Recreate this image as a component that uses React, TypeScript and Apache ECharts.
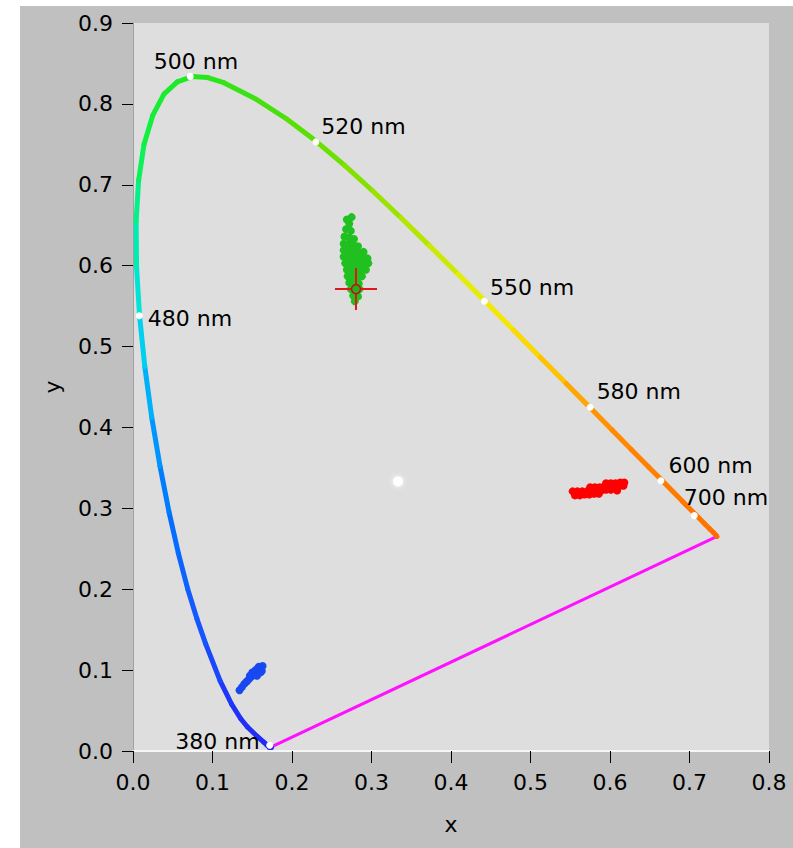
import React, { useEffect, useRef } from "react";
import * as echarts from "echarts";

// CIE 1931 spectral locus (chromaticity x, y per wavelength in nm)
const wavelengths = [
  380, 400, 420, 430, 440, 450, 460, 465, 470, 475, 480, 482.5, 485, 487.5, 490, 492.5, 495, 497.5,
  500, 502.5, 505, 507.5, 510, 512.5, 515, 517.5, 520, 522.5, 525, 530, 535, 540, 545, 550, 555,
  560, 565, 570, 575, 580, 585, 590, 595, 600, 605, 610, 620, 630, 640, 650, 660, 680, 700,
];
const locusX = [
  0.1741, 0.1733, 0.1714, 0.1689, 0.1644, 0.1566, 0.144, 0.1355, 0.1241, 0.1096, 0.0913, 0.0803,
  0.0687, 0.057, 0.0454, 0.034, 0.0235, 0.0148, 0.0082, 0.0045, 0.0039, 0.0071, 0.0139, 0.0248,
  0.0389, 0.0557, 0.0743, 0.0939, 0.1142, 0.1547, 0.1929, 0.2296, 0.2658, 0.3016, 0.3373, 0.3731,
  0.4087, 0.4441, 0.4788, 0.5125, 0.5448, 0.5752, 0.6029, 0.627, 0.6482, 0.6658, 0.6915, 0.7079,
  0.719, 0.726, 0.73, 0.7334, 0.7347,
];
const locusY = [
  0.005, 0.0048, 0.0051, 0.0069, 0.0109, 0.0177, 0.0297, 0.0399, 0.0578, 0.0868, 0.1327, 0.1637,
  0.2007, 0.2447, 0.295, 0.352, 0.4127, 0.4756, 0.5384, 0.5985, 0.6548, 0.7059, 0.7502, 0.7857,
  0.812, 0.8272, 0.8338, 0.8326, 0.8262, 0.8059, 0.7816, 0.7543, 0.7243, 0.6923, 0.6589, 0.6245,
  0.5896, 0.5547, 0.5202, 0.4866, 0.4544, 0.4242, 0.3965, 0.3725, 0.3514, 0.334, 0.3083, 0.292,
  0.2809, 0.274, 0.27, 0.2666, 0.2653,
];

// Wavelength markers drawn on the locus
const markerNames = ["500 nm", "520 nm", "550 nm", "580 nm", "600 nm", "700 nm", "480 nm", "380 nm"];
const markerX = [0.072, 0.23, 0.442, 0.575, 0.664, 0.706, 0.008, 0.172];
const markerY = [0.834, 0.753, 0.556, 0.425, 0.334, 0.291, 0.538, 0.007];

// Equal-energy white point
const whitePoint = [0.3333, 0.3333];

// Measured chromaticities: green, red and blue clusters
const greenCluster: number[][] = [
  [0.272, 0.652], [0.268, 0.645], [0.274, 0.643], [0.266, 0.636], [0.272, 0.635], [0.278, 0.633],
  [0.265, 0.627], [0.271, 0.627], [0.277, 0.626], [0.283, 0.624], [0.265, 0.619], [0.271, 0.619],
  [0.277, 0.618], [0.283, 0.618], [0.29, 0.617], [0.265, 0.611], [0.271, 0.611], [0.277, 0.61],
  [0.283, 0.61], [0.289, 0.61], [0.295, 0.609], [0.267, 0.603], [0.273, 0.602], [0.279, 0.602],
  [0.285, 0.602], [0.291, 0.601], [0.296, 0.603], [0.269, 0.595], [0.275, 0.594], [0.281, 0.594],
  [0.287, 0.594], [0.293, 0.595], [0.27, 0.587], [0.276, 0.586], [0.282, 0.586], [0.288, 0.587],
  [0.272, 0.579], [0.278, 0.578], [0.284, 0.578], [0.274, 0.571], [0.28, 0.57], [0.285, 0.571],
  [0.277, 0.563], [0.283, 0.562], [0.279, 0.556], [0.269, 0.657], [0.275, 0.66],
];
const redCluster: number[][] = [
  [0.556, 0.316], [0.562, 0.316], [0.568, 0.317], [0.574, 0.317], [0.58, 0.318], [0.553, 0.321],
  [0.559, 0.321], [0.565, 0.321], [0.571, 0.321], [0.577, 0.322], [0.583, 0.322], [0.589, 0.322],
  [0.595, 0.323], [0.601, 0.323], [0.575, 0.326], [0.581, 0.326], [0.587, 0.326], [0.593, 0.327],
  [0.599, 0.327], [0.605, 0.327], [0.611, 0.327], [0.617, 0.328], [0.595, 0.331], [0.601, 0.331],
  [0.607, 0.331], [0.613, 0.332], [0.618, 0.332], [0.609, 0.322], [0.586, 0.318],
];
const blueCluster: number[][] = [
  [0.134, 0.075], [0.137, 0.079], [0.14, 0.083], [0.143, 0.086], [0.146, 0.089], [0.149, 0.092],
  [0.152, 0.095], [0.155, 0.098], [0.158, 0.1], [0.161, 0.103], [0.163, 0.105], [0.15, 0.097],
  [0.154, 0.1], [0.158, 0.104], [0.156, 0.093], [0.16, 0.097], [0.162, 0.099], [0.147, 0.093],
];

// Reference cross at the target chromaticity
const targetPoint = [0.2805, 0.571];

const X_MIN = 0;
const X_MAX = 0.8;
const Y_MIN = 0;
const Y_MAX = 0.9;
const TICK_STEP = 0.1;

const FONT = "DejaVu Sans";
const FONT_SIZE = 22;

// Line colour along the locus, interpolated between these stops
const colorStopNm = [380, 470, 480, 485, 490, 495, 500, 505, 510, 520, 530, 540, 550, 560, 570, 580, 590, 600, 620, 700];
const colorStopHex = [
  "#2020f0", "#2030f8", "#1850ff", "#1060ff", "#0070ff", "#00a0ff", "#00e0e8", "#00f0a0", "#10f040",
  "#20e820", "#40e010", "#60e000", "#90e000", "#c0e800", "#f0f000", "#ffd000", "#ff9800", "#ff8400",
  "#ff7800", "#ff6800",
];

function hexToRgb(h: string) {
  const n = parseInt(h.slice(1), 16);
  return [(n >> 16) & 255, (n >> 8) & 255, n & 255];
}

function colorAt(nm: number) {
  let i = 0;
  while (i < colorStopNm.length - 2 && nm > colorStopNm[i + 1]) i++;
  const t = Math.max(0, Math.min(1, (nm - colorStopNm[i]) / (colorStopNm[i + 1] - colorStopNm[i])));
  const a = hexToRgb(colorStopHex[i]);
  const b = hexToRgb(colorStopHex[i + 1]);
  const c = a.map((v, k) => Math.round(v + (b[k] - v) * t));
  return `rgb(${c[0]},${c[1]},${c[2]})`;
}

// Label placement for each marker (pixels, relative to the marker)
const markerLabelOffset: Record<string, number[]> = {
  "500 nm": [-40, -15],
  "520 nm": [2, -15],
  "550 nm": [2, -14],
  "580 nm": [3, -16],
  "600 nm": [4, -15],
  "700 nm": [-14, -18],
  "480 nm": [5, 3],
  "380 nm": [-98, -4],
};

export default function App() {
  const ref = useRef<HTMLDivElement>(null);

  useEffect(() => {
    const chart = echarts.init(ref.current!, null, { renderer: "svg" });

    const locusSegments = wavelengths.slice(0, -1).map((nm, i) => ({
      coords: [
        [locusX[i], locusY[i]],
        [locusX[i + 1], locusY[i + 1]],
      ],
      lineStyle: { color: colorAt((nm + wavelengths[i + 1]) / 2) },
    }));
    const last = wavelengths.length - 1;

    const gridLine = {
      show: true,
      lineStyle: {
        color: "#a2a2a2",
        width: 1,
        shadowColor: "rgba(255,255,255,0.95)",
        shadowBlur: 1,
        shadowOffsetX: -2,
        shadowOffsetY: 2,
      },
    };
    const axisText = { color: "#000", fontFamily: FONT, fontSize: FONT_SIZE };
    const blob = (color: string, data: number[][]) => ({
      type: "scatter",
      z: 5,
      symbol: "circle",
      symbolSize: 8,
      itemStyle: { color, opacity: 1 },
      data,
    });

    chart.setOption({
      animation: false,
      backgroundColor: "#c0c0c0",
      graphic: [
        { type: "rect", shape: { x: 0, y: 0, width: 20, height: 848 }, style: { fill: "#ffffff" }, silent: true },
        { type: "rect", shape: { x: 0, y: 0, width: 793, height: 6 }, style: { fill: "#ffffff" }, silent: true },
      ],
      grid: {
        left: 133,
        top: 23,
        right: 24,
        bottom: 97,
        show: true,
        backgroundColor: "#dedede",
        borderWidth: 0,
      },
      xAxis: {
        type: "value",
        min: X_MIN,
        max: X_MAX,
        interval: TICK_STEP,
        name: "x",
        nameLocation: "middle",
        nameGap: 62,
        nameTextStyle: axisText,
        axisLine: { show: true, lineStyle: { color: "#f6f6f6", width: 2 } },
        axisTick: { show: true, length: 12, lineStyle: { color: "#000", width: 1 } },
        axisLabel: { ...axisText, margin: 20, formatter: (v: number) => v.toFixed(1) },
        splitLine: gridLine,
      },
      yAxis: {
        type: "value",
        min: Y_MIN,
        max: Y_MAX,
        interval: TICK_STEP,
        name: "y",
        nameLocation: "middle",
        nameGap: 70,
        nameTextStyle: axisText,
        axisLine: { show: true, lineStyle: { color: "#a2a2a2", width: 1 } },
        axisTick: { show: true, length: 11, lineStyle: { color: "#000", width: 1 } },
        axisLabel: { ...axisText, margin: 20, formatter: (v: number) => v.toFixed(1) },
        splitLine: gridLine,
      },
      series: [
        {
          type: "lines",
          coordinateSystem: "cartesian2d",
          z: 3,
          lineStyle: { width: 3, color: "#ff10ff", opacity: 1 },
          data: [
            {
              coords: [
                [locusX[0], locusY[0]],
                [locusX[last], locusY[last]],
              ],
            },
          ],
        },
        {
          type: "lines",
          coordinateSystem: "cartesian2d",
          z: 4,
          lineStyle: { width: 5, opacity: 1, cap: "round" },
          data: locusSegments,
        },
        blob("#20c020", greenCluster),
        blob("#ff0000", redCluster),
        blob("#1848f0", blueCluster),
        {
          type: "scatter",
          z: 6,
          symbol: "path://M0,20h42v2h-42z M20,0h2v42h-2z",
          symbolSize: 42,
          itemStyle: { color: "#e01818", opacity: 1 },
          data: [targetPoint],
        },
        {
          type: "scatter",
          z: 7,
          symbol: "circle",
          symbolSize: 9,
          itemStyle: { color: "#22b022", borderColor: "#c01010", borderWidth: 1.5, opacity: 1 },
          data: [targetPoint],
        },
        {
          type: "scatter",
          z: 6,
          symbol: "circle",
          symbolSize: 10,
          itemStyle: { color: "#ffffff", shadowColor: "#ffffff", shadowBlur: 5, opacity: 1 },
          data: [whitePoint],
        },
        {
          type: "scatter",
          z: 8,
          symbol: "circle",
          symbolSize: 7,
          itemStyle: { color: "#ffffff", opacity: 1 },
          label: {
            show: true,
            position: "right",
            distance: 0,
            formatter: "{b}",
            color: "#000",
            fontFamily: FONT,
            fontSize: FONT_SIZE,
          },
          data: markerNames.map((name, i) => ({
            name,
            value: [markerX[i], markerY[i]],
            label: { offset: markerLabelOffset[name] },
          })),
        },
      ],
    });

    return () => chart.dispose();
  }, []);

  return (
    <div
      ref={ref}
      style={{ position: "absolute", left: 0, top: 0, width: 793, height: 848 }}
    />
  );
}
